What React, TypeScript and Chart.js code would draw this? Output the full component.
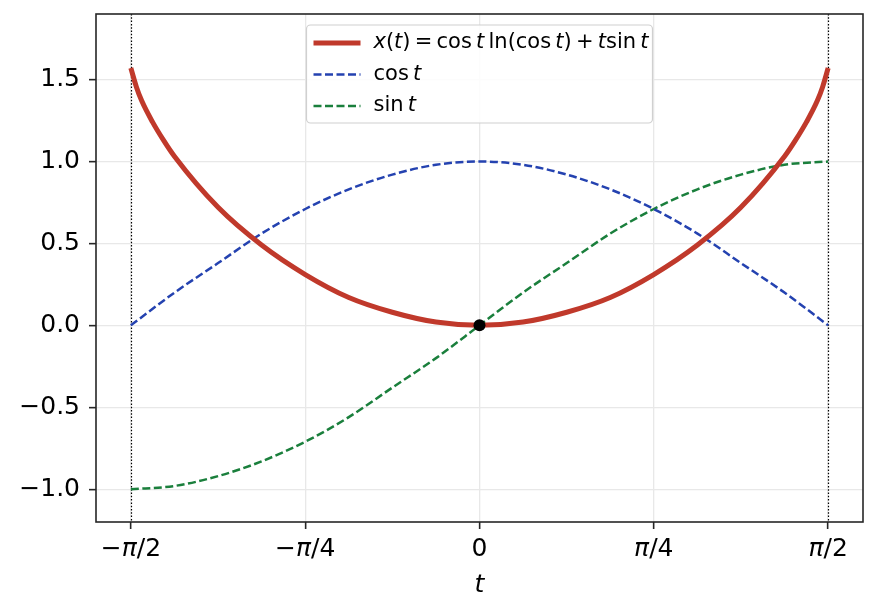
import { useRef, useEffect } from "react";
import { Chart, registerables, ChartConfiguration, Plugin } from "chart.js";

Chart.register(...registerables);

// x(t) = cos t ln(cos t) + t sin t
const tRed = [
  -1.571, -1.546, -1.522, -1.473, -1.424, -1.374, -1.178, -0.982, -0.785, -0.589, -0.393, -0.196, 0,
  0.196, 0.393, 0.589, 0.785, 0.982, 1.178, 1.374, 1.424, 1.473, 1.522, 1.546, 1.571,
];
const xRed = [
  1.57, 1.455, 1.37, 1.24, 1.13, 1.03, 0.72, 0.49, 0.31, 0.17, 0.08, 0.02, 0,
  0.02, 0.08, 0.17, 0.31, 0.49, 0.72, 1.03, 1.13, 1.24, 1.37, 1.455, 1.57,
];

// cos t and sin t (dashed)
const tTrig = [
  -1.571, -1.374, -1.178, -0.982, -0.785, -0.589, -0.393, -0.196, 0,
  0.196, 0.393, 0.589, 0.785, 0.982, 1.178, 1.374, 1.571,
];
const cosVals = [0, 0.2, 0.38, 0.56, 0.71, 0.83, 0.92, 0.98, 1.0, 0.98, 0.92, 0.83, 0.71, 0.56, 0.38, 0.2, 0];
const sinVals = [-1.0, -0.98, -0.92, -0.83, -0.71, -0.56, -0.38, -0.2, 0, 0.2, 0.38, 0.56, 0.71, 0.83, 0.92, 0.98, 1.0];

// marked point
const dotT = [0];
const dotX = [0];

const xTickValues = [-1.5708, -0.7854, 0, 0.7854, 1.5708];
const xTickLabels = ["−π/2", "−π/4", "0", "π/4", "π/2"];
const yTickValues = [-1.0, -0.5, 0.0, 0.5, 1.0, 1.5];
const boundaryT = [-1.5708, 1.5708];

const RED = "#c0392b";
const BLUE = "#2442b0";
const GREEN = "#1a7f3c";
const FONT = "DejaVu Sans";
const THIN = "\u2009";

type Seg = [string, boolean];
const legendRows: { color: string; width: number; dash: number[]; segs: Seg[] }[] = [
  {
    color: RED,
    width: 5,
    dash: [],
    segs: [
      ["x", true], ["(", false], ["t", true], [")" + THIN + "=" + THIN + "cos" + THIN, false], ["t", true],
      [THIN + "ln(cos" + THIN, false], ["t", true], [")" + THIN + "+" + THIN, false], ["t", true],
      ["sin" + THIN, false], ["t", true],
    ],
  },
  { color: BLUE, width: 2.5, dash: [8, 3.5], segs: [["cos" + THIN, false], ["t", true]] },
  { color: GREEN, width: 2.5, dash: [8, 3.5], segs: [["sin" + THIN, false], ["t", true]] },
];

function drawSegs(ctx: CanvasRenderingContext2D, segs: Seg[], x: number, y: number, size: number, center: boolean) {
  let total = 0;
  segs.forEach(([text, italic]) => {
    ctx.font = `${italic ? "italic " : ""}${size}px "${FONT}"`;
    total += ctx.measureText(text).width;
  });
  let cx = center ? x - total / 2 : x;
  ctx.textAlign = "left";
  ctx.textBaseline = "middle";
  segs.forEach(([text, italic]) => {
    ctx.font = `${italic ? "italic " : ""}${size}px "${FONT}"`;
    ctx.fillText(text, cx, y);
    cx += ctx.measureText(text).width;
  });
}

const extras: Plugin<"line"> = {
  id: "extras",
  beforeDatasetsDraw(chart) {
    const { ctx, chartArea } = chart;
    const xs = chart.scales.x;
    ctx.save();
    ctx.strokeStyle = "#000";
    ctx.lineWidth = 1.2;
    ctx.setLineDash([1.5, 1.8]);
    boundaryT.forEach((v) => {
      const px = Math.round(xs.getPixelForValue(v)) + 0.5;
      ctx.beginPath();
      ctx.moveTo(px, chartArea.top);
      ctx.lineTo(px, chartArea.bottom);
      ctx.stroke();
    });
    ctx.restore();
  },
  afterDraw(chart) {
    const { ctx, chartArea } = chart;
    const xs = chart.scales.x;
    ctx.save();
    // frame
    ctx.strokeStyle = "#262626";
    ctx.lineWidth = 1.6;
    ctx.strokeRect(chartArea.left, chartArea.top, chartArea.right - chartArea.left, chartArea.bottom - chartArea.top);

    // x tick labels with italic pi
    ctx.fillStyle = "#000";
    xTickValues.forEach((v, i) => {
      const segs: Seg[] = xTickLabels[i].split("").map((c) => [c, c === "π"] as Seg);
      drawSegs(ctx, segs, xs.getPixelForValue(v), chartArea.bottom + 27, 25, true);
    });

    // legend
    const fs = 21;
    const w = 346;
    const h = 98;
    const bx = (chartArea.left + chartArea.right) / 2 - w / 2;
    const by = chartArea.top + 11;
    ctx.beginPath();
    ctx.roundRect(bx, by, w, h, 4);
    ctx.fillStyle = "rgba(255,255,255,0.85)";
    ctx.fill();
    ctx.strokeStyle = "#d0d0d0";
    ctx.lineWidth = 1.2;
    ctx.stroke();
    legendRows.forEach((row, i) => {
      const cy = by + 18 + i * 31.5;
      ctx.strokeStyle = row.color;
      ctx.lineWidth = row.width;
      ctx.setLineDash(row.dash);
      ctx.beginPath();
      ctx.moveTo(bx + 7, cy);
      ctx.lineTo(bx + 54, cy);
      ctx.stroke();
      ctx.setLineDash([]);
      ctx.fillStyle = "#000";
      drawSegs(ctx, row.segs, bx + 67, cy, fs, false);
    });
    ctx.restore();
  },
};

export default function App() {
  const chartRef = useRef<HTMLCanvasElement>(null);
  const chartInstance = useRef<Chart<"line"> | null>(null);

  useEffect(() => {
    document.body.style.margin = "0";
    if (chartRef.current && chartInstance.current === null) {
      const config: ChartConfiguration<"line"> = {
        type: "line",
        data: {
          datasets: [
            {
              label: "x(t)",
              data: tRed.map((t, i) => ({ x: t, y: xRed[i] })),
              borderColor: RED,
              borderWidth: 5,
              pointRadius: 0,
              cubicInterpolationMode: "monotone",
              order: 1,
            },
            {
              label: "cos t",
              data: tTrig.map((t, i) => ({ x: t, y: cosVals[i] })),
              borderColor: BLUE,
              borderWidth: 2.5,
              borderDash: [8, 3.5],
              pointRadius: 0,
              cubicInterpolationMode: "monotone",
              order: 2,
            },
            {
              label: "sin t",
              data: tTrig.map((t, i) => ({ x: t, y: sinVals[i] })),
              borderColor: GREEN,
              borderWidth: 2.5,
              borderDash: [8, 3.5],
              pointRadius: 0,
              cubicInterpolationMode: "monotone",
              order: 3,
            },
            {
              label: "point",
              data: dotT.map((t, i) => ({ x: t, y: dotX[i] })),
              showLine: false,
              pointRadius: 6,
              pointBackgroundColor: "#000",
              pointBorderWidth: 0,
              order: 0,
            },
          ],
        },
        options: {
          responsive: false,
          animation: false,
          devicePixelRatio: 1,
          layout: { padding: { top: 14, right: 14, left: 0, bottom: 0 } },
          plugins: { legend: { display: false }, tooltip: { enabled: false } },
          scales: {
            x: {
              type: "linear",
              min: -1.728,
              max: 1.728,
              afterBuildTicks: (scale) => {
                scale.ticks = xTickValues.map((v) => ({ value: v }));
              },
              afterFit: (scale) => {
                scale.height = 93;
                scale.paddingLeft = 0;
                scale.paddingRight = 0;
              },
              ticks: {
                display: false,
              },
              grid: {
                color: "#e8e8e8",
                lineWidth: 1.3,
                tickColor: "#262626",
                tickLength: 7,
                tickWidth: 1.6,
              },
              border: { display: false },
              title: {
                display: true,
                text: "t",
                font: { family: FONT, size: 25, style: "italic" },
                color: "#000",
                padding: { top: 0, bottom: 15 },
              },
            },
            y: {
              type: "linear",
              min: -1.2,
              max: 1.9,
              afterBuildTicks: (scale) => {
                scale.ticks = yTickValues.map((v) => ({ value: v }));
              },
              afterFit: (scale) => {
                scale.width = 96;
                scale.paddingTop = 0;
                scale.paddingBottom = 0;
              },
              ticks: {
                callback: (v) => Number(v).toFixed(1).replace("-", "−"),
                font: { family: FONT, size: 25 },
                color: "#000",
                padding: 9,
              },
              grid: {
                color: "#e8e8e8",
                lineWidth: 1.3,
                tickColor: "#262626",
                tickLength: 7,
                tickWidth: 1.6,
              },
              border: { display: false },
            },
          },
        },
        plugins: [extras],
      };
      chartInstance.current = new Chart(chartRef.current, config);
    }
    return () => {
      if (chartInstance.current) {
        chartInstance.current.destroy();
        chartInstance.current = null;
      }
    };
  }, []);

  return <canvas ref={chartRef} width={877} height={615} style={{ display: "block" }} />;
}
